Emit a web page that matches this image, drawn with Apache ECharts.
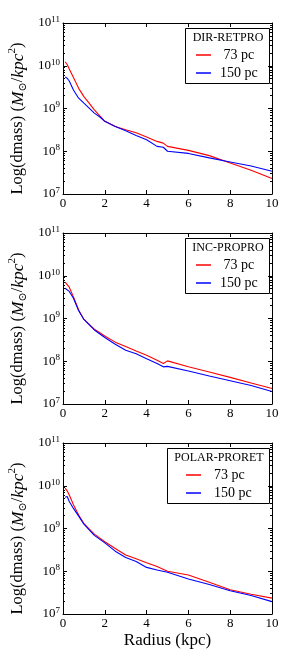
<!DOCTYPE html>
<html><head><meta charset="utf-8">
<script src="https://cdn.jsdelivr.net/npm/echarts@6/dist/echarts.min.js"></script>
<style>html,body{margin:0;padding:0;background:#fff}#c{width:291px;height:654px}</style>
</head><body><div id="c"></div>
<script>
// ---- data ----
const panelTitles = ['DIR-RETPRO', 'INC-PROPRO', 'POLAR-PRORET'];
const seriesNames = ['73 pc', '150 pc'];
const xTicks = [0, 2, 4, 6, 8, 10];

const x1 = [0.1,0.2,0.3,0.5,0.75,1,1.25,1.5,1.75,2,2.5,3,3.5,4,4.5,4.8,5,6,7,8,9,10];
const red1 = [1.24e10,1.07e10,8.4e9,5.3e9,2.96e9,1.9e9,1.33e9,9.3e8,6.8e8,5.0e8,3.8e8,3.2e8,2.7e8,2.15e8,1.7e8,1.55e8,1.3e8,1.05e8,7.9e7,5.3e7,3.6e7,2.3e7];
const blue1 = [5.5e9,5.1e9,4.4e9,2.7e9,1.74e9,1.33e9,1.02e9,7.8e8,6.4e8,5.0e8,3.8e8,3.0e8,2.35e8,1.86e8,1.3e8,1.24e8,1.0e8,8.9e7,7.0e7,5.6e7,4.5e7,3.4e7];

const x2 = [0.1,0.3,0.5,0.75,1,1.5,2,2.5,3,3.5,4,4.5,4.8,5,6,7,8,9,10];
const red2 = [7.1e9,5.4e9,3.2e9,1.58e9,9.5e8,5.6e8,3.9e8,2.8e8,2.2e8,1.73e8,1.38e8,1.05e8,8.9e7,1.02e8,7.4e7,5.6e7,4.2e7,3.1e7,2.3e7];
const blue2 = [5.1e9,4.3e9,2.97e9,1.52e9,9.5e8,5.4e8,3.6e8,2.5e8,1.8e8,1.5e8,1.15e8,8.9e7,7.4e7,7.6e7,5.9e7,4.5e7,3.5e7,2.7e7,1.96e7];

const x3 = [0.1,0.2,0.3,0.5,0.75,1,1.5,2,2.5,3,3.5,4,4.5,5,6,7,8,9,10];
const red3 = [8.8e9,7.6e9,6.1e9,3.6e9,2.06e9,1.3e9,7.4e8,4.9e8,3.4e8,2.4e8,1.95e8,1.58e8,1.29e8,1.0e8,8.2e7,5.5e7,3.7e7,2.9e7,2.35e7];
const blue3 = [5.4e9,5.6e9,4.3e9,2.95e9,1.95e9,1.26e9,6.9e8,4.6e8,2.95e8,2.1e8,1.7e8,1.23e8,1.07e8,9.5e7,6.6e7,4.9e7,3.5e7,2.7e7,1.95e7];

const xs = [x1, x2, x3];
const reds = [red1, red2, red3];
const blues = [blue1, blue2, blue3];

// ---- layout ----
const FONT = '"Liberation Serif", "DejaVu Serif", serif';
const GL = 63, GW = 209, GH = 171, TOPS = [23, 233, 443];
// legend box per panel: [boxLeft, boxWidth, iconLeft]
const LBOX = [[185, 84, 196], [185, 84, 196], [167, 102, 186]];
const chart = echarts.init(document.getElementById('c'));

const grids = [], xAxes = [], yAxes = [], series = [], legends = [], graphics = [];
const yLabelRich = {
  b: {fontFamily: FONT, fontSize: 13, color: '#000', lineHeight: 16},
  e: {fontFamily: FONT, fontSize: 9, color: '#000', lineHeight: 9, verticalAlign: 'top'}
};
function expLabel(v) {
  const e = Math.round(Math.log10(v));
  return '{b|10}{e|' + e + '}';
}
const nameRich = {
  n: {fontFamily: FONT, fontSize: 16.5, color: '#000', lineHeight: 22},
  i: {fontFamily: FONT, fontSize: 17.5, fontStyle: 'italic', color: '#000', lineHeight: 22},
  s: {fontFamily: FONT, fontSize: 11, color: '#000', lineHeight: 11, verticalAlign: 'bottom'},
  p: {fontFamily: FONT, fontSize: 11, color: '#000', lineHeight: 11, verticalAlign: 'top'}
};
TOPS.forEach((top, k) => {
  grids.push({left: GL, top: top, width: GW, height: GH});
  const tickCommon = {inside: true, length: 4, lineStyle: {color: '#000', width: 1}};
  xAxes.push({
    type: 'value', gridIndex: k, min: 0, max: 10, interval: 2, position: 'bottom',
    axisLine: {onZero: false, lineStyle: {color: '#000', width: 1}},
    axisTick: tickCommon, splitLine: {show: false},
    axisLabel: {fontFamily: FONT, fontSize: 13, color: '#000', margin: 3},
    name: k === 2 ? 'Radius (kpc)' : '', nameLocation: 'middle', nameGap: 18,
    nameTextStyle: {fontFamily: FONT, fontSize: 17, color: '#000'}
  });
  xAxes.push({
    type: 'value', gridIndex: k, min: 0, max: 10, interval: 2, position: 'top',
    axisLine: {onZero: false, lineStyle: {color: '#000', width: 1}},
    axisTick: tickCommon, axisLabel: {show: false}, splitLine: {show: false}
  });
  const minorCommon = {show: true, splitNumber: 9, length: 2, lineStyle: {color: '#000', width: 1}};
  yAxes.push({
    type: 'log', logBase: 10, gridIndex: k, min: 1e7, max: 1e11, position: 'left',
    axisLine: {onZero: false, lineStyle: {color: '#000', width: 1}},
    axisTick: tickCommon, minorTick: minorCommon, splitLine: {show: false}, minorSplitLine: {show: false},
    axisLabel: {formatter: expLabel, rich: yLabelRich, margin: 3}
  });
  yAxes.push({
    type: 'log', logBase: 10, gridIndex: k, min: 1e7, max: 1e11, position: 'right',
    axisLine: {onZero: false, lineStyle: {color: '#000', width: 1}},
    axisTick: tickCommon, minorTick: minorCommon, axisLabel: {show: false}, splitLine: {show: false}
  });
  const cols = ['#ff0000', '#0000ff'];
  [reds[k], blues[k]].forEach((vals, j) => {
    series.push({
      type: 'line', name: seriesNames[j], xAxisIndex: 2 * k, yAxisIndex: 2 * k,
      data: xs[k].map((x, i) => [x, vals[i]]), showSymbol: false, symbol: 'none',
      lineStyle: {color: cols[j], width: 1.1}, itemStyle: {color: cols[j]}, smooth: false, animation: false
    });
  });
  const [bl, bw, il] = LBOX[k];
  legends.push({
    orient: 'vertical', left: il, top: top + 24, itemWidth: 15, itemHeight: 1.5, itemGap: 2,
    icon: 'rect', data: seriesNames, padding: 0,
    formatter: n => (k < 2 && n === '73 pc') ? ' ' + n : n,
    textStyle: {fontFamily: FONT, fontSize: 14, color: '#000', lineHeight: 16, padding: [0, 0, 0, k < 2 ? 4 : 8]}
  });
  graphics.push({
    type: 'rect', z: 100, silent: true, x: bl + 0.5, y: top + 5.5,
    shape: {x: 0, y: 0, width: bw, height: 55},
    style: {fill: 'transparent', stroke: '#000', lineWidth: 1}
  });
  graphics.push({
    type: 'text', z: 100, x: bl + bw / 2 + 1, y: top + 15,
    style: {text: panelTitles[k], fontFamily: FONT, fontSize: 12, fill: '#000', align: 'center', verticalAlign: 'middle'}
  });
  graphics.push({
    type: 'text', z: 100, x: 18, y: top + GH / 2 + 10, rotation: Math.PI / 2,
    style: {
      text: '{n|Log(dmass) (}{i|M}{s|⊙}{n|/}{i|kpc}{p|2}{n|)}',
      rich: nameRich, align: 'center', verticalAlign: 'middle'
    }
  });
});

chart.setOption({
  animation: false,
  grid: grids, xAxis: xAxes, yAxis: yAxes, series: series, legend: legends, graphic: graphics
});
</script></body></html>
